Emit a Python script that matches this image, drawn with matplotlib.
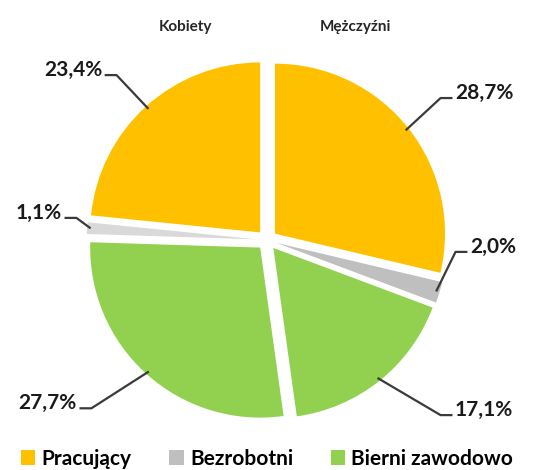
import numpy as np
import matplotlib
matplotlib.use('Agg')
import matplotlib.pyplot as plt
from matplotlib.patches import Patch

plt.rcParams['font.family'] = ['Lato', 'DejaVu Sans']

# data: slices clockwise from 12 o'clock (men first, then women)
groups = ['Mężczyźni', 'Mężczyźni', 'Mężczyźni', 'Kobiety', 'Kobiety', 'Kobiety']
status = ['Pracujący', 'Bezrobotni', 'Bierni zawodowo', 'Bierni zawodowo', 'Bezrobotni', 'Pracujący']
shares = [28.7, 2.0, 17.1, 27.7, 1.1, 23.4]
labels = ['28,7%', '2,0%', '17,1%', '27,7%', '1,1%', '23,4%']
legend_names = ['Pracujący', 'Bezrobotni', 'Bierni zawodowo']

colors = ['#FFC000', '#BFBFBF', '#92D050', '#92D050', '#D9D9D9', '#FFC000']
legend_colors = ['#FFC000', '#BFBFBF', '#92D050']
expl = 0.06

# label text anchor (data units) and alignment
label_pos = [(1.106, 0.865, 'left'), (1.194, -0.04, 'left'), (1.106, -1.0, 'left'),
             (-1.118, -0.96, 'right'), (-1.206, 0.16, 'right'), (-0.97, 1.0, 'right')]

fig = plt.figure(figsize=(5.34, 4.70), dpi=100)
ax = fig.add_axes([0, 0, 1, 1])

wedges, _ = ax.pie(shares, colors=colors, startangle=90, counterclock=False,
                   explode=[expl] * len(shares), radius=1.0,
                   wedgeprops=dict(linewidth=0))

# pie() resets the limits, so fix them afterwards (1 unit = 170 px)
cx, cy, scale = 267, 240, 170
ax.set_xlim(-cx / scale, (534 - cx) / scale)
ax.set_ylim(-(470 - cy) / scale, cy / scale)
ax.set_aspect('equal')
ax.axis('off')

for w, lab, (tx, ty, ha) in zip(wedges, labels, label_pos):
    mid = np.deg2rad((w.theta1 + w.theta2) / 2)
    r = 1.0 + expl - 0.02
    ax_, ay_ = r * np.cos(mid), r * np.sin(mid)
    sgn = 1 if ha == 'left' else -1
    x0 = tx - sgn * 0.015
    x1 = x0 - sgn * 0.07
    ly = ty - 0.03
    ax.plot([x0, x1, ax_], [ly, ly, ay_], color='#3a3a3a', lw=1.6, solid_capstyle='butt')
    ax.text(tx, ty, lab, ha=ha, va='center', fontsize=15, fontweight='bold', color='#1a1a1a')

fig.text(185 / 534, 1 - 27 / 470, 'Kobiety', ha='center', va='center',
         fontsize=11, fontweight='bold', color='#262626')
fig.text(355 / 534, 1 - 27 / 470, 'Mężczyźni', ha='center', va='center',
         fontsize=11, fontweight='bold', color='#262626')

handles = [Patch(facecolor=c, edgecolor='none') for c in legend_colors]
fig.legend(handles, legend_names, loc='center', bbox_to_anchor=(0.5, 1 - 459 / 470),
           ncol=3, frameon=False, handlelength=0.7, handleheight=0.7,
           handletextpad=0.3, columnspacing=1.8,
           prop=dict(size=15, weight='bold'))

fig.savefig('out.png', dpi=100)
